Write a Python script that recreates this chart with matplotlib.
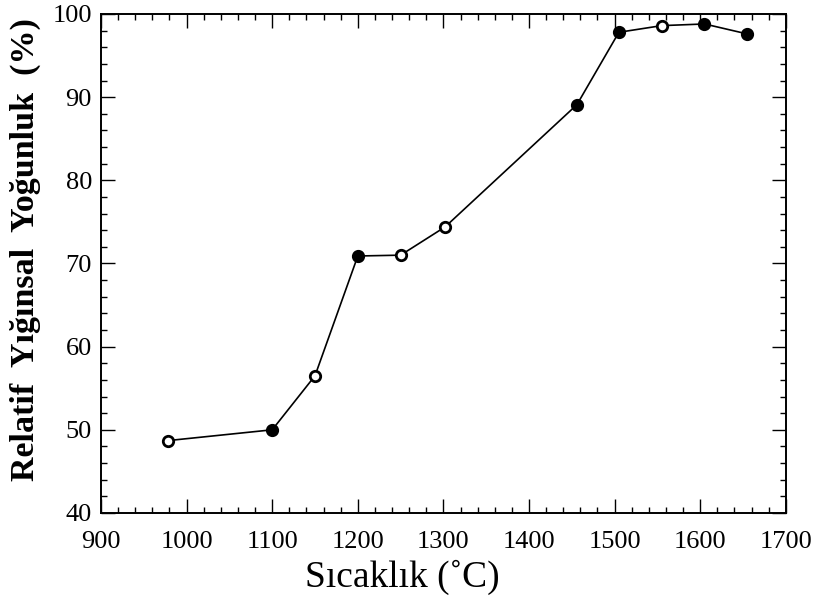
import matplotlib
matplotlib.use("Agg")
from matplotlib import pyplot as plt
from matplotlib.ticker import MultipleLocator

# sicaklik (C) ve relatif yogunluk (%)
sicaklik = [978, 1100, 1150, 1200, 1250, 1302, 1456, 1505, 1555, 1605, 1655]
yogunluk = [48.7, 50.0, 56.5, 70.9, 71.0, 74.4, 89.1, 97.8, 98.6, 98.8, 97.6]
# acik (True) / dolu (False) isaretler
acik = [True, False, True, False, True, True, False, False, True, False, False]

x_ticks = [900, 1000, 1100, 1200, 1300, 1400, 1500, 1600, 1700]
y_ticks = [40, 50, 60, 70, 80, 90, 100]

plt.rcParams['font.family'] = ['Liberation Serif', 'DejaVu Serif']

fig = plt.figure(figsize=(8.16, 6.03), dpi=100)
ax = fig.add_axes([0.1238, 0.1493, 0.8392, 0.8275])

ax.plot(sicaklik, yogunluk, color='black', lw=1.2, zorder=2)
for x, y, a in zip(sicaklik, yogunluk, acik):
    ax.plot(x, y, 'o', ms=7.5, mec='black', mew=2.0,
            mfc='white' if a else 'black', zorder=3)

ax.set_xlim(900, 1700)
ax.set_ylim(40, 100)
ax.set_xticks(x_ticks)
ax.set_yticks(y_ticks)
ax.xaxis.set_minor_locator(MultipleLocator(20))
ax.yaxis.set_minor_locator(MultipleLocator(2))
ax.tick_params(which='both', direction='in', top=True, right=True, width=1.0)
ax.tick_params(which='major', length=10)
ax.tick_params(which='minor', length=4.5)
ax.tick_params(axis='x', labelsize=19, pad=13)
ax.tick_params(axis='y', labelsize=19, pad=6.5)
for s in ax.spines.values():
    s.set_linewidth(1.4)

fig.text(402 / 816, 1 - 577 / 603, "Sıcaklık (˚C)", fontsize=27,
         ha='center', va='center')
fig.text(25 / 816, 1 - 250 / 603, "Relatif  Yığınsal  Yoğunluk  (%)",
         fontsize=24.5, fontweight='bold', rotation=90,
         ha='center', va='center')

fig.savefig('out.png', dpi=100)
